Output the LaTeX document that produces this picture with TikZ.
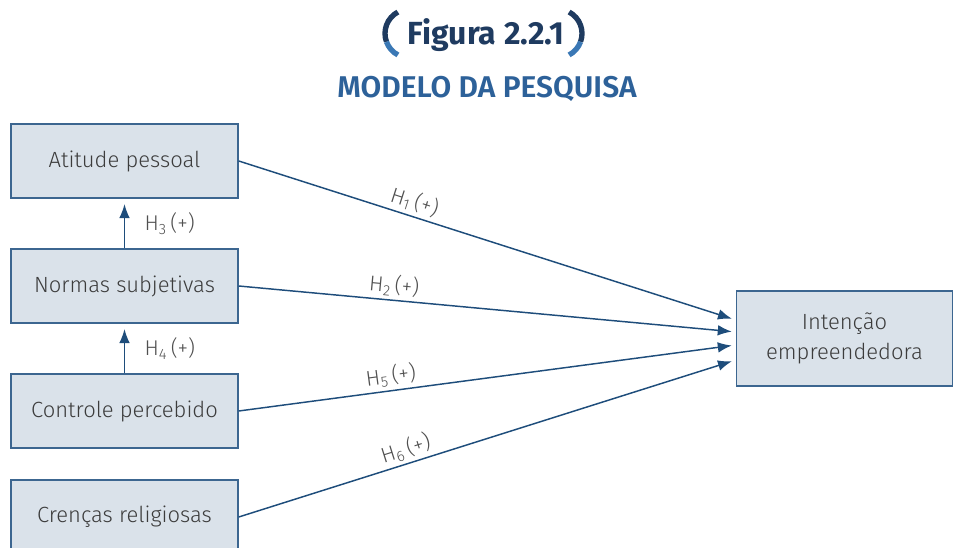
\documentclass[tikz,border=0pt]{standalone}
\usepackage{fontspec}
\setmainfont{Fira Sans}[UprightFont=* Light, BoldFont=* SemiBold]
\newfontfamily\titlefont{Fira Sans}[UprightFont=* Bold]
\usetikzlibrary{arrows.meta,calc}
\definecolor{boxfill}{HTML}{DAE2EA}
\definecolor{boxline}{HTML}{3C6690}
\definecolor{arrblue}{HTML}{1E4D7B}
\definecolor{txtgray}{HTML}{3C3C3C}
\definecolor{titledark}{HTML}{1F3B60}
\definecolor{titlelight}{HTML}{3A78B5}
\definecolor{subblue}{HTML}{2D6199}

\begin{document}
\begin{tikzpicture}[
  x=0.75pt, y=-0.75pt,
  constr/.style={draw=boxline, fill=boxfill, line width=1.1pt, text=txtgray,
    minimum width=170.25pt, minimum height=55.5pt, font=\fontsize{16.5}{19}\selectfont},
  arr/.style={arrblue, line width=1.1pt, -{Latex[length=10.5pt,width=8pt]}},
  hyp/.style={text=txtgray!90, font=\fontsize{16}{18}\selectfont, inner sep=1.5pt},
  brk/.style={line width=4pt},
]
\clip (0,0) rectangle (953,548);
%\draw[gray, help lines, step=50] (0,0) grid (953,548);
% title
\node[text=titledark, font=\fontsize{24}{28}\titlefont, anchor=base] (fig) at (486,45) {Figura 2.2.1};
\node[text=subblue, font=\fontsize{22.5}{26}\selectfont\bfseries, anchor=base] (sub) at (487,98) {MODELO DA PESQUISA};
\draw[brk, titledark] (409.3,33.5) ++(-118:24.3) arc[start angle=-118, end angle=-200, radius=24.3];
\draw[brk, titlelight] (409.3,33.5) ++(-200:24.3) arc[start angle=-200, end angle=-242, radius=24.3];
\draw[brk, titledark] (557.7,33.5) ++(-62:24.3) arc[start angle=-62, end angle=20, radius=24.3];
\draw[brk, titlelight] (557.7,33.5) ++(20:24.3) arc[start angle=20, end angle=62, radius=24.3];
% constructs
\node[constr] (atp) at (124.5,161) {Atitude pessoal};
\node[constr] (nor) at (124.5,286) {Normas subjetivas};
\node[constr] (ctr) at (124.5,411) {Controle percebido};
\node[constr] (cre) at (124.5,517) {Crenças religiosas};
\node[constr, minimum width=162pt, minimum height=71.25pt, align=center,
  font=\fontsize{16.5}{22.5}\selectfont] (int) at (844.5,338.5) {Intenção\\empreendedora};
% hypotheses
\draw[arr, shorten >=4pt] (nor.north) -- (atp.south) node[midway, right=13pt, hyp] {H\textsubscript{3}\,(+)};
\draw[arr, shorten >=4pt] (ctr.north) -- (nor.south) node[midway, right=13pt, hyp] {H\textsubscript{4}\,(+)};
\draw[arr, shorten >=3pt] (atp.east) -- ($(int.west)+(0,-18.5)$) node[pos=0.345, sloped, above=1pt, hyp] {H\textsubscript{1}\,(+)};
\draw[arr, shorten >=3pt] (nor.east) -- ($(int.west)+(0,-6.5)$) node[pos=0.31, sloped, above=1pt, hyp] {H\textsubscript{2}\,(+)};
\draw[arr, shorten >=3pt] (ctr.east) -- ($(int.west)+(0,6.5)$) node[pos=0.31, sloped, above=1pt, hyp] {H\textsubscript{5}\,(+)};
\draw[arr, shorten >=3pt] (cre.east) -- ($(int.west)+(0,21.5)$) node[pos=0.345, sloped, above=1pt, hyp] {H\textsubscript{6}\,(+)};
\end{tikzpicture}
\end{document}
